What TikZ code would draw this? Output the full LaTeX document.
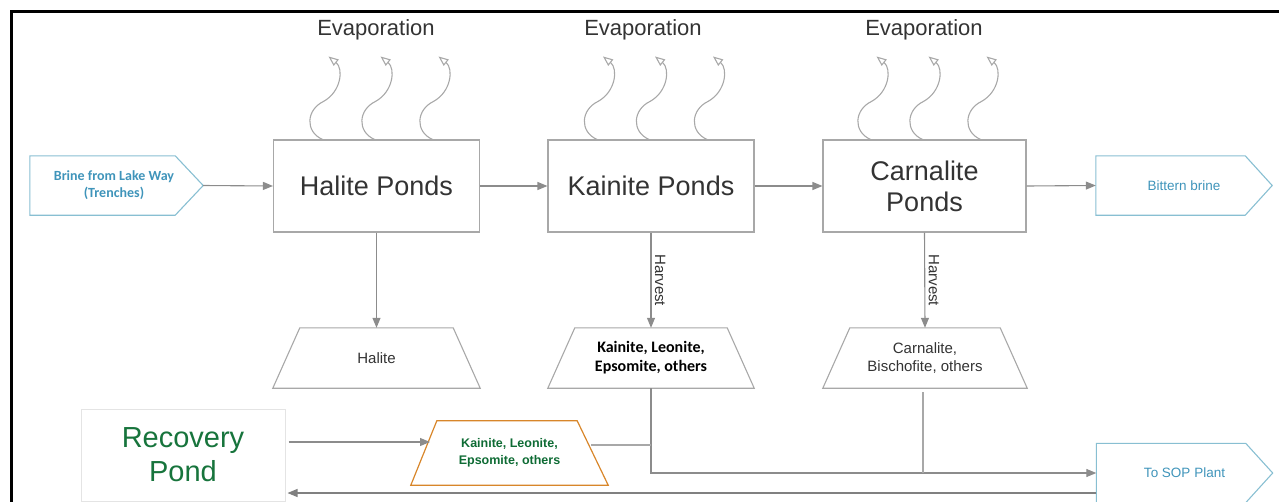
\documentclass[tikz,border=0pt]{standalone}
\usepackage{fontspec}
\setmainfont{Liberation Sans}
\newfontfamily\calibri{Carlito}
\usetikzlibrary{arrows.meta,calc}
\definecolor{boxgray}{HTML}{A8A8A8}
\definecolor{arrgray}{HTML}{8C8C8C}
\definecolor{txtdark}{HTML}{333333}
\definecolor{blueline}{HTML}{88BFD2}
\definecolor{bluetxt}{HTML}{3F94BA}
\definecolor{recgreen}{HTML}{17743C}
\definecolor{recborder}{HTML}{E4E4E4}
\definecolor{orgline}{HTML}{D8862A}
\definecolor{lblgreen}{HTML}{0E6B34}
\begin{document}
\begin{tikzpicture}[x=1pt,y=-1pt,
  pond/.style={draw=boxgray, line width=1.1pt, minimum width=206pt, minimum height=92pt,
    text=txtdark, font=\fontsize{27}{31}\selectfont, align=center, inner sep=0pt},
  evaplbl/.style={text=txtdark, font=\fontsize{22}{26}\selectfont, inner sep=0pt},
  tagbox/.style={minimum width=176pt, minimum height=59pt, align=center, inner sep=0pt, text=bluetxt},
  tagline/.style={draw=blueline, line width=1.1pt},
  trapbox/.style={minimum width=206pt, minimum height=60pt, align=center, inner sep=0pt},
  trapline/.style={draw=boxgray, line width=1.1pt},
  arr/.style={draw=arrgray, line width=1.1pt, -{Triangle[length=10pt,width=8pt]}},
  plain/.style={draw=boxgray, line width=1.1pt},
  evap/.style={draw=boxgray, line width=1.1pt, -{Triangle[open,length=10pt,width=8pt]}},
  harvestlbl/.style={rotate=-90, anchor=south, text=txtdark, font=\fontsize{15}{17}\selectfont}
]
\useasboundingbox (0,0) rectangle (1279,501);

% frame
\draw[line width=3pt] (11,503) -- (11,11) -- (1281,11);

% evaporation labels
\node[evaplbl] (ev1) at (376,30) {Evaporation};
\node[evaplbl] (ev2) at (643,30) {Evaporation};
\node[evaplbl] (ev3) at (924,30) {Evaporation};

% ponds
\node[pond] (hal) at (376.5,186) {Halite Ponds};
\node[pond] (kai) at (651,186) {Kainite Ponds};
\node[pond, minimum width=203pt] (car) at (924.5,186) {Carnalite\\Ponds};

% squiggly evaporation arrows
\foreach \b in {hal,kai,car}{
  \foreach \d in {-54,-2,56}{
    \draw[evap] ($(\b.north)+(\d,0)$) .. controls +(-18,-8) and +(-17,8) .. ++(1,-38)
      .. controls +(18,-10) and +(15,12) .. ++(5,-45);
  }
}

% brine in
\node[tagbox, minimum width=178pt, font=\calibri\bfseries\fontsize{14}{17}\selectfont] (brine) at (114,185.5) {Brine from Lake Way\\(Trenches)};
\draw[tagline] ($(brine.north west)+(5,0)$) -- ($(brine.north east)+(-28,0)$) -- (brine.east)
  -- ($(brine.south east)+(-28,0)$) -- ($(brine.south west)+(5,0)$) -- cycle;

% bittern brine out
\node[tagbox, font=\fontsize{13.5}{16}\selectfont] (bit) at (1184,185.5) {Bittern brine};
\draw[tagline] (bit.north west) -- ($(bit.north east)+(-27,0)$) -- (bit.east)
  -- ($(bit.south east)+(-27,0)$) -- (bit.south west) -- cycle;

% to SOP plant
\node[tagbox, font=\fontsize{13.5}{16}\selectfont] (sop) at (1184.5,473) {To SOP Plant};
\draw[tagline] (sop.north west) -- ($(sop.north east)+(-27,0)$) -- (sop.east)
  -- ($(sop.south east)+(-27,0)$) -- (sop.south west) -- cycle;

% trapezoids
\node[trapbox, minimum width=207pt, text=txtdark, font=\fontsize{15}{18}\selectfont] (haltrap) at (376.5,358) {Halite};
\node[trapbox, text=black, font=\calibri\bfseries\fontsize{16}{19}\selectfont] (kaitrap) at (651,358) {Kainite, Leonite,\\Epsomite, others};
\node[trapbox, minimum width=204pt, text=txtdark, font=\fontsize{15}{17.5}\selectfont] (cartrap) at (925,358) {Carnalite,\\Bischofite, others};
\foreach \t in {haltrap,kaitrap,cartrap}{
  \draw[trapline] (\t.south west) -- ($(\t.north west)+(27,0)$) -- ($(\t.north east)+(-27,0)$)
    -- (\t.south east) -- cycle;
}

% recovery pond
\node[draw=recborder, line width=1pt, minimum width=204pt, minimum height=92pt, align=center,
  text=recgreen, font=\fontsize{29}{34}\selectfont, inner sep=0pt] (rec) at (183,455) {Recovery\\Pond};

% orange trapezoid
\node[trapbox, minimum width=197pt, minimum height=64pt, text=lblgreen,
  font=\bfseries\fontsize{12.5}{17}\selectfont] (otrap) at (509.5,453) {Kainite, Leonite,\\Epsomite, others};
\draw[draw=orgline, line width=1.2pt] (otrap.south west) -- ($(otrap.north west)+(26,0)$)
  -- ($(otrap.north east)+(-31,0)$) -- (otrap.south east) -- cycle;

% main flow
\draw[arr] (brine.east) -- (hal.west);
\draw[arr] (hal.east) -- (kai.west);
\draw[arr] (kai.east) -- (car.west);
\draw[arr] (car.east) -- (bit.west);

% harvest
\draw[arr] (hal.south) -- (haltrap.north);
\draw[arr] (kai.south) -- node[harvestlbl, midway] {Harvest} (kaitrap.north);
\draw[arr] (car.south) -- node[harvestlbl, midway] {Harvest} (cartrap.north);

% to SOP plant
\draw[arr] (kaitrap.south) |- (sop.west);
\draw[plain] ($(cartrap.south)+(-2,4)$) coordinate (cj) -- (cj |- sop.west);
\coordinate (oj) at (591,445);
\draw[plain] (oj) -- (oj -| kaitrap.south);

% recovery
\coordinate (oin) at (430,442);
\draw[arr] ($(rec.east |- oin)+(3,0)$) -- (oin);
\draw[arr, draw=gray] ($(sop.west)+(0,20)$) coordinate (b1) -- ($(b1 -| rec.east)+(2,0)$);
\end{tikzpicture}
\end{document}
